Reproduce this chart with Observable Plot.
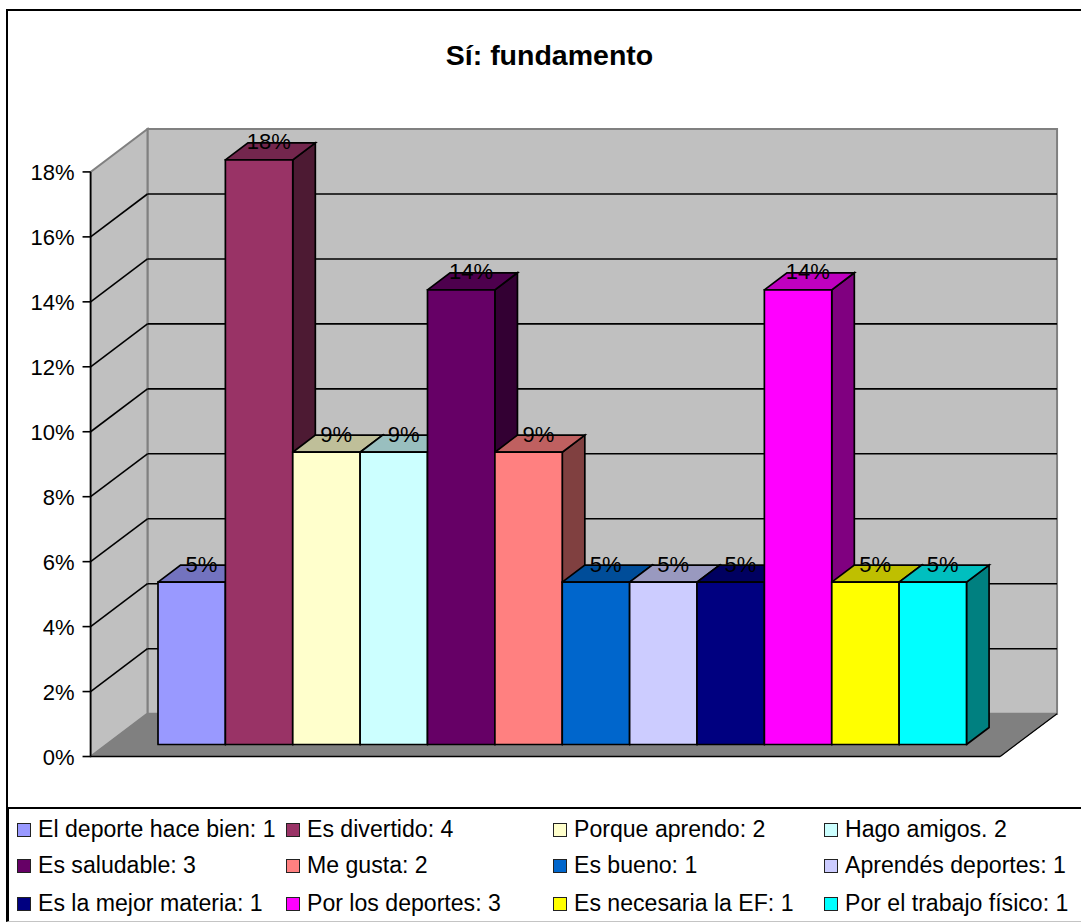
<!DOCTYPE html>
<html lang="es">
<head>
<meta charset="utf-8">
<title>Sí: fundamento</title>
<script src="https://cdn.jsdelivr.net/npm/d3@7"></script>
<script src="https://cdn.jsdelivr.net/npm/@observablehq/plot@0.6"></script>
<style>
  html, body { margin: 0; padding: 0; background: #fff; }
  body { font-family: "Liberation Sans", Arial, sans-serif; color: #000; overflow: hidden; }
  #page { position: relative; width: 1081px; height: 922px; overflow: hidden; }
  #frame { position: absolute; left: 6px; top: 9px; right: -4px; height: 798px; border-left: 2px solid #000; border-top: 2px solid #000; box-sizing: border-box; }
  #title { position: absolute; left: 0; top: 40px; width: 1099px; text-align: center; font-size: 28.5px; font-weight: bold; line-height: 30px; }
  #chart { position: absolute; left: 0; top: 0; }
  #chart svg { display: block; background: transparent; }
  #legend { position: absolute; left: 6px; top: 806.5px; width: 1082px; height: 115.5px; box-sizing: border-box; border-top: 2px solid #000; border-left: 3px solid #000; border-bottom: 1px solid #c4c4c4; }
  .item { position: absolute; display: flex; align-items: center; height: 24px; font-size: 23.1px; white-space: nowrap; }
  .swatch { width: 12px; height: 12px; border: 1.5px solid #222; margin-right: 7px; flex: none; }
</style>
</head>
<body>
<div id="page">
  <div id="frame"></div>
  <div id="chart"></div>
  <div id="title">Sí: fundamento</div>
  <div id="legend"></div>
</div>
<script>
const legendLabels = [
  "El deporte hace bien: 1", "Es divertido: 4", "Porque aprendo: 2", "Hago amigos. 2",
  "Es saludable: 3", "Me gusta: 2", "Es bueno: 1", "Aprendés deportes: 1",
  "Es la mejor materia: 1", "Por los deportes: 3", "Es necesaria la EF: 1", "Por el trabajo físico: 1"
];
const percentages = [5, 18, 9, 9, 14, 9, 5, 5, 5, 14, 5, 5];
const barColors = ["#9999FF", "#993366", "#FFFFCC", "#CCFFFF", "#660066", "#FF8080",
                   "#0066CC", "#CCCCFF", "#000080", "#FF00FF", "#FFFF00", "#00FFFF"];
const yTicks = [0, 2, 4, 6, 8, 10, 12, 14, 16, 18];
const legendColumns = [10, 279, 546, 817];
const legendRows = [9, 45, 83];

// Oblique projection offsets, in data units of the x and y scales
const barDepth = {x: 0.335, y: 0.524};
const frontCorner = {x: -1.0, y: -0.37};
const backCorner = {x: -0.156, y: 0.95};
const floorWidth = 13.5;

const shade = (c, k) => { const r = d3.rgb(c); return d3.rgb(r.r * k, r.g * k, r.b * k).formatHex(); };

const polygon = (id, fill, pts) => [...pts, pts[0]].map(([x, y]) => ({id, fill, x, y}));

const barFaces = percentages.flatMap((v, i) => {
  const c = barColors[i], d = barDepth;
  return [
    ...polygon(`side${i}`, shade(c, 0.5), [[i + 1, 0], [i + 1 + d.x, d.y], [i + 1 + d.x, v + d.y], [i + 1, v]]),
    ...polygon(`top${i}`, shade(c, 0.75), [[i, v], [i + d.x, v + d.y], [i + 1 + d.x, v + d.y], [i + 1, v]]),
    ...polygon(`front${i}`, c, [[i, 0], [i, v], [i + 1, v], [i + 1, 0]])
  ];
});

const f = frontCorner, b = backCorner, W = floorWidth, T = 18;
const walls = [
  ...polygon("back", "#C0C0C0", [[b.x, b.y], [b.x, b.y + T], [b.x + W, b.y + T], [b.x + W, b.y]]),
  ...polygon("left", "#C0C0C0", [[f.x, f.y], [f.x, f.y + T], [b.x, b.y + T], [b.x, b.y]])
];
const floor = polygon("floor", "#808080", [[f.x, f.y], [b.x, b.y], [b.x + W, b.y], [f.x + W, f.y]]);
const gridTicks = yTicks.filter(t => t > 0 && t < 18);

const chart = Plot.plot({
  width: 1081,
  height: 806,
  margin: 0,
  style: {fontFamily: "'Liberation Sans', Arial, sans-serif", background: "transparent", overflow: "visible"},
  x: {domain: [0, 12], range: [157.5, 966], axis: null},
  y: {domain: [0, 18], range: [744, 159.4], axis: null},
  color: {type: "identity"},
  marks: [
    Plot.line(walls, {x: "x", y: "y", z: "id", fill: "fill", stroke: "#808080", strokeWidth: 2, strokeLinejoin: "miter", strokeMiterlimit: 4}),
    // gridlines on the back wall and the left wall
    Plot.link(gridTicks, {x1: b.x, x2: b.x + W, y1: t => t + b.y, y2: t => t + b.y, stroke: "#000", strokeWidth: 1.6}),
    Plot.link(gridTicks, {x1: f.x, x2: b.x, y1: t => t + f.y, y2: t => t + b.y, stroke: "#000", strokeWidth: 1.6}),
    Plot.line(floor, {x: "x", y: "y", z: "id", fill: "fill", stroke: "#808080", strokeWidth: 1}),
    // axis line, floor edges, tick marks and tick labels
    Plot.link([0], {x1: f.x, x2: f.x, y1: f.y, y2: f.y + T, stroke: "#000", strokeWidth: 1.6}),
    Plot.link([0], {x1: f.x, x2: f.x + W, y1: f.y, y2: f.y, stroke: "#000", strokeWidth: 1.6}),
    Plot.link([0], {x1: f.x + W, x2: b.x + W, y1: f.y, y2: b.y, stroke: "#000", strokeWidth: 1.2}),
    Plot.link(yTicks, {x1: f.x - 0.12, x2: f.x, y1: t => t + f.y, y2: t => t + f.y, stroke: "#000", strokeWidth: 1.6}),
    Plot.text(yTicks, {x: f.x, y: t => t + f.y, text: t => `${t}%`, dx: -16, dy: 1, textAnchor: "end", lineAnchor: "middle", fontSize: 22, fill: "#000"}),
    // bars, painted left to right
    Plot.line(barFaces, {x: "x", y: "y", z: "id", fill: "fill", stroke: "#000", strokeWidth: 1.7, strokeLinejoin: "miter", strokeMiterlimit: 4}),
    // value labels
    Plot.text(percentages, {x: (v, i) => i + 0.5 + 0.16, y: v => v, text: v => `${v}%`, dx: -1, dy: -17.5, lineAnchor: "middle", fontSize: 22, fill: "#000"})
  ]
});
document.getElementById("chart").appendChild(chart);

const legend = document.getElementById("legend");
legendLabels.forEach((label, i) => {
  const item = document.createElement("div");
  item.className = "item";
  item.style.left = legendColumns[i % 4] - 2 + "px";
  item.style.top = legendRows[Math.floor(i / 4)] + "px";
  const sw = document.createElement("span");
  sw.className = "swatch";
  sw.style.background = barColors[i];
  const tx = document.createElement("span");
  tx.textContent = label;
  item.append(sw, tx);
  legend.appendChild(item);
});
</script>
</body>
</html>
